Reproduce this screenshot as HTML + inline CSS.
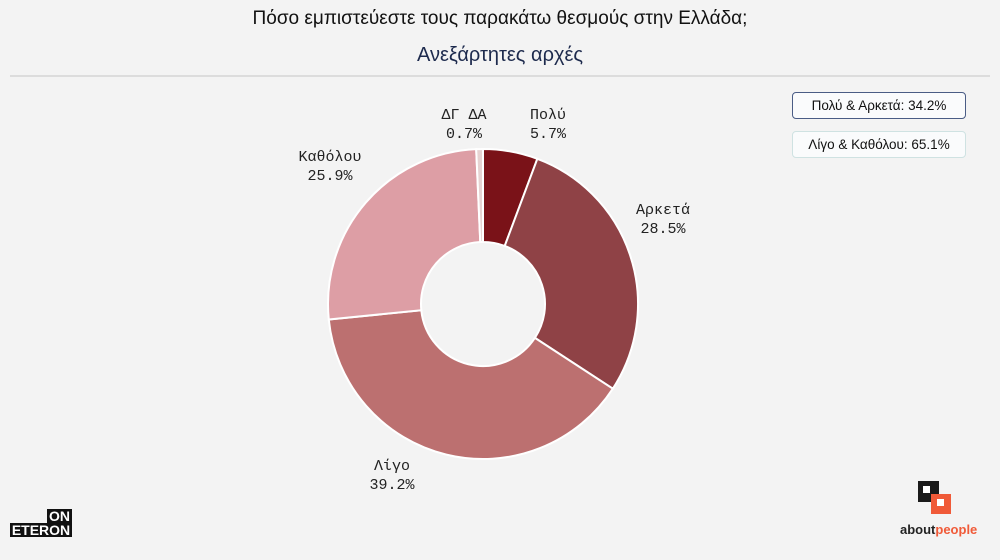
<!DOCTYPE html>
<html><head><meta charset="utf-8">
<style>
body{margin:0;width:1000px;height:560px;background:#f3f3f3;font-family:"Liberation Sans",sans-serif;position:relative;overflow:hidden}
.t{position:absolute;left:0;width:1000px;text-align:center}
.box{position:absolute;left:792px;width:172px;height:25px;border-radius:4px;background:#fafbfc;font-size:13.5px;line-height:25px;text-align:center;color:#111}
</style></head><body>
<div class="t" style="top:8px;font-size:19px;color:#111">Πόσο εμπιστεύεστε τους παρακάτω θεσμούς στην Ελλάδα;</div>
<div class="t" style="top:44px;font-size:20px;color:#1d2a4d">Ανεξάρτητες αρχές</div>
<div style="position:absolute;left:10px;top:75px;width:980px;height:2px;background:#dcdcdc"></div>
<div class="box" style="top:92px;border:1.5px solid #4a5c85">Πολύ &amp; Αρκετά: 34.2%</div>
<div class="box" style="top:131px;border:1.5px solid #cfe2e2">Λίγο &amp; Καθόλου: 65.1%</div>
<svg id="chart" width="1000" height="560" style="position:absolute;left:0;top:0"></svg>
<div style="position:absolute;left:10px;top:509px;width:62px;height:28px;font-weight:bold;font-size:14px;line-height:14px">
 <div style="margin-left:37px;background:#111;color:#fff;width:25px;text-align:center">ON</div>
 <div style="background:#111;color:#fff;width:62px;text-align:center">ETERON</div>
</div>
<div style="position:absolute;left:900px;top:478px;width:80px;height:62px">
 <div style="position:absolute;left:18px;top:3px;width:21px;height:21px;background:#1a1a1a"></div>
 <div style="position:absolute;left:23px;top:8px;width:7px;height:7px;background:#fff"></div>
 <div style="position:absolute;left:31px;top:16px;width:20px;height:20px;background:#f05a38"></div>
 <div style="position:absolute;left:37px;top:21px;width:7px;height:7px;background:#fff"></div>
 <div style="position:absolute;left:0;top:44px;width:73px;text-align:right;font-size:13px;font-weight:bold;color:#222">about<span style="color:#f05a38">people</span></div>
</div>
<script>
const categories=["Πολύ","Αρκετά","Λίγο","Καθόλου","ΔΓ ΔΑ"];
const values=[5.7,28.5,39.2,25.9,0.7];
const colors=["#7a1218","#8f4246","#bc7070","#dd9ea5","#e6d3d2"];
const labelPos=[[548,119],[663,214],[392,470],[330,161],[464,119]];
const svg=document.getElementById('chart');
const NS="http://www.w3.org/2000/svg";
const cx=483,cy=304,R=155,r=62;
const total=values.reduce((a,b)=>a+b,0);
function pt(a,rad){return [cx+rad*Math.sin(a),cy-rad*Math.cos(a)];}
let acc=0;
values.forEach((v,i)=>{
 const a0=acc/total*2*Math.PI;acc+=v;const a1=acc/total*2*Math.PI;
 const lg=(a1-a0)>Math.PI?1:0;
 const p0=pt(a0,R),p1=pt(a1,R),q1=pt(a1,r),q0=pt(a0,r);
 const p=document.createElementNS(NS,'path');
 p.setAttribute('d',`M${p0} A${R},${R} 0 ${lg} 1 ${p1} L${q1} A${r},${r} 0 ${lg} 0 ${q0}Z`);
 p.setAttribute('fill',colors[i]);p.setAttribute('stroke','#fff');p.setAttribute('stroke-width','2');
 
 
 svg.appendChild(p);
 const t=document.createElementNS(NS,'text');
 t.setAttribute('x',labelPos[i][0]);t.setAttribute('y',labelPos[i][1]);
 t.setAttribute('text-anchor','middle');t.setAttribute('font-family','"Liberation Mono",monospace');
 t.setAttribute('font-size','15');t.setAttribute('fill','#222');
 
 
 const s1=document.createElementNS(NS,'tspan');s1.setAttribute('x',labelPos[i][0]);s1.textContent=categories[i];
 const s2=document.createElementNS(NS,'tspan');s2.setAttribute('x',labelPos[i][0]);s2.setAttribute('dy','19');s2.textContent=v.toFixed(1)+'%';
 t.appendChild(s1);t.appendChild(s2);svg.appendChild(t);
});
</script>
</body></html>
